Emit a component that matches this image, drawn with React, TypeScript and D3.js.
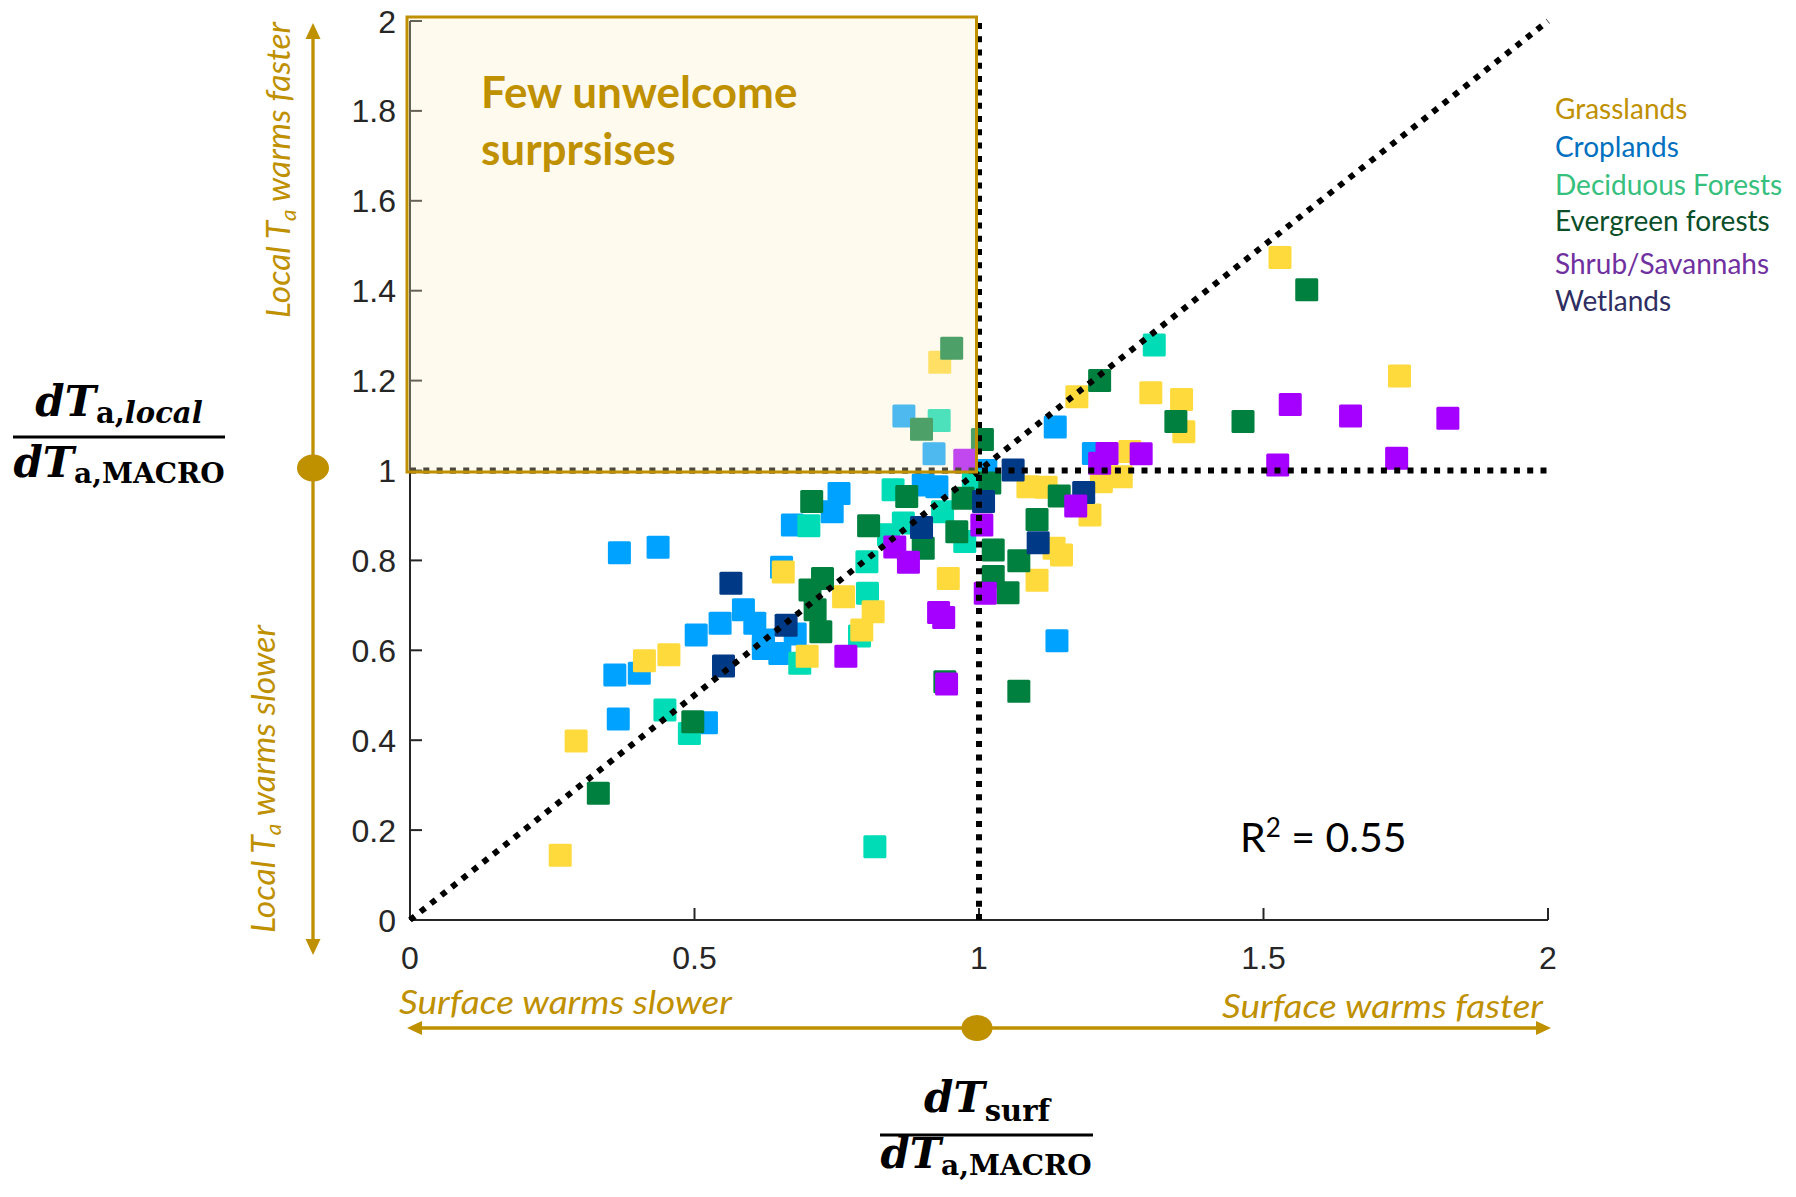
import React from "react";
import * as d3 from "d3";

type Pt = [number, number];

// ---- data (x = dTsurf/dTa,MACRO, y = dTa,local/dTa,MACRO) ----
const grasslands: Pt[] = [
  [0.931, 1.241], [0.656, 0.774], [0.762, 0.719], [0.814, 0.686], [0.794, 0.645],
  [0.946, 0.76], [0.698, 0.587], [0.412, 0.577], [0.455, 0.59], [0.292, 0.398],
  [0.264, 0.144], [1.172, 1.164], [1.302, 1.173], [1.356, 1.158], [1.36, 1.086],
  [1.739, 1.21], [1.529, 1.474], [1.265, 1.042], [1.25, 0.986], [1.215, 0.975],
  [1.086, 0.964], [1.118, 0.963], [1.195, 0.901], [1.132, 0.827], [1.145, 0.812],
  [1.102, 0.756],
];
const croplands: Pt[] = [
  [0.868, 1.121], [0.921, 1.037], [0.902, 0.968], [0.926, 0.964], [1.012, 1.0],
  [0.754, 0.949], [0.742, 0.908], [0.672, 0.879], [0.368, 0.817], [0.436, 0.829],
  [0.653, 0.785], [0.586, 0.69], [0.545, 0.66], [0.606, 0.66], [0.677, 0.636],
  [0.503, 0.634], [0.621, 0.623], [0.621, 0.604], [0.65, 0.593], [0.36, 0.545],
  [0.403, 0.549], [0.366, 0.447], [0.521, 0.439], [1.134, 1.097], [1.201, 1.038],
  [1.137, 0.621],
];
const deciduousForests: Pt[] = [
  [0.93, 1.111], [0.849, 0.957], [0.701, 0.877], [0.867, 0.883], [0.841, 0.857],
  [0.936, 0.908], [0.975, 0.842], [0.99, 0.976], [0.803, 0.797], [0.804, 0.727],
  [0.79, 0.632], [0.685, 0.571], [0.448, 0.467], [0.491, 0.415], [0.817, 0.163],
  [1.308, 1.279],
];
const evergreenForests: Pt[] = [
  [0.952, 1.272], [0.899, 1.092], [1.006, 1.069], [0.873, 0.942], [0.706, 0.931],
  [0.806, 0.877], [0.902, 0.827], [0.972, 0.938], [0.961, 0.864], [1.019, 0.972],
  [1.025, 0.823], [1.025, 0.764], [0.725, 0.76], [0.703, 0.734], [0.712, 0.69],
  [0.722, 0.641], [0.94, 0.53], [0.497, 0.441], [0.331, 0.282], [1.212, 1.2],
  [1.346, 1.109], [1.464, 1.109], [1.141, 0.943], [1.102, 0.891], [1.07, 0.799],
  [1.051, 0.728], [1.07, 0.509], [1.576, 1.402],
];
const shrubSavannahs: Pt[] = [
  [0.975, 1.023], [0.852, 0.83], [0.876, 0.796], [1.005, 0.879], [1.011, 0.727],
  [0.929, 0.684], [0.938, 0.673], [0.766, 0.587], [0.943, 0.525], [1.547, 1.147],
  [1.653, 1.121], [1.824, 1.116], [1.525, 1.012], [1.734, 1.027], [1.225, 1.038],
  [1.212, 1.016], [1.285, 1.037], [1.17, 0.921],
];
const wetlands: Pt[] = [
  [0.899, 0.873], [1.008, 0.931], [0.564, 0.749], [0.661, 0.656], [0.551, 0.565],
  [1.06, 1.001], [1.184, 0.951], [1.104, 0.839],
];

const categoryNames = [
  "Grasslands", "Croplands", "Deciduous Forests",
  "Evergreen forests", "Shrub/Savannahs", "Wetlands",
];
const categoryData = [grasslands, croplands, deciduousForests, evergreenForests, shrubSavannahs, wetlands];
const markerColors = ["#FFDA3C", "#00A2FF", "#00DCB6", "#00803F", "#A500FF", "#003A86"];
const legendColors = ["#BF9000", "#0070C0", "#36C07E", "#0B4F2A", "#7030A0", "#2F2E62"];
const drawOrder = [1, 2, 0, 3, 5, 4];

const xTickValues = [0, 0.5, 1, 1.5, 2];
const yTickValues = [0, 0.2, 0.4, 0.6, 0.8, 1, 1.2, 1.4, 1.6, 1.8, 2];

const W = 1796;
const H = 1197;
const GOLD = "#BF9000";
const AXIS = "#262626";

export default function App() {
  const x = d3.scaleLinear().domain([0, 2]).range([410, 1548]);
  const y = d3.scaleLinear().domain([0, 2]).range([920, 21]);
  const fmt = d3.format("~g");
  const S = 23;
  const line = d3.line<Pt>().x((d) => x(d[0])).y((d) => y(d[1]));
  const dot = { stroke: "#000", strokeWidth: 6, strokeDasharray: "6 7.3", fill: "none" };

  const legendBaselines = [119, 157, 195, 231, 274, 311];
  const italicLabel = {
    fontFamily: "Lato, sans-serif",
    fontStyle: "italic",
    fontWeight: 400,
    fontSize: 33,
    fill: GOLD,
    lengthAdjust: "spacingAndGlyphs",
  } as const;

  return (
    <svg
      width={W}
      height={H}
      viewBox={`0 0 ${W} ${H}`}
      style={{ position: "absolute", left: 0, top: 0, background: "#fff" }}
    >
      <rect x={0} y={0} width={W} height={H} fill="#fff" />

      {/* axes */}
      <line x1={x(0)} x2={x(2)} y1={y(0)} y2={y(0)} stroke={AXIS} strokeWidth={2} />
      <line x1={x(0)} x2={x(0)} y1={y(0)} y2={y(2)} stroke={AXIS} strokeWidth={2} />
      {xTickValues.map((t) => (
        <g key={"xt" + t}>
          <line x1={x(t)} x2={x(t)} y1={y(0)} y2={y(0) - 12} stroke={AXIS} strokeWidth={2} />
          <text x={x(t)} y={969} textAnchor="middle" fontFamily="'Liberation Sans', Arial, sans-serif" fontSize={32} fill={AXIS}>
            {fmt(t)}
          </text>
        </g>
      ))}
      {yTickValues.map((t) => (
        <g key={"yt" + t}>
          <line x1={x(0)} x2={x(0) + 12} y1={y(t)} y2={y(t)} stroke={AXIS} strokeWidth={2} />
          <text x={396} y={y(t)} dy="0.36em" textAnchor="end" fontFamily="'Liberation Sans', Arial, sans-serif" fontSize={32} fill={AXIS}>
            {fmt(t)}
          </text>
        </g>
      ))}

      {/* points */}
      {drawOrder.map((ci) => (
        <g key={"cat" + ci}>
          {categoryData[ci].map((d, i) => (
            <rect key={i} x={x(d[0]) - S / 2} y={y(d[1]) - S / 2} width={S} height={S} rx={1.5} fill={markerColors[ci]} />
          ))}
        </g>
      ))}

      {/* reference lines */}
      <path d={line([[0, 0], [2, 2]]) || ""} {...dot} />
      <path d={line([[0, 1], [2, 1]]) || ""} {...dot} />
      <path d={line([[1, 0], [1, 2]]) || ""} {...dot} />

      {/* highlighted box */}
      <rect
        x={x(0) - 3}
        y={y(2) - 4}
        width={x(1) - x(0) + 0.5}
        height={y(1) - y(2) + 5.5}
        fill="rgb(255,238,198)"
        fillOpacity={0.3}
        stroke={GOLD}
        strokeWidth={3}
      />
      <text fontFamily="Lato, sans-serif" fontWeight={700} fontSize={44} fill={GOLD}>
        <tspan x={481} y={108}>Few unwelcome</tspan>
        <tspan x={481} y={165}>surprsises</tspan>
      </text>

      {/* legend */}
      {categoryNames.map((n, i) => (
        <text key={n} x={1555} y={legendBaselines[i]} fontFamily="Lato, sans-serif" fontSize={28} fill={legendColors[i]}>
          {n}
        </text>
      ))}

      {/* R2 */}
      <text x={1240} y={852} fontFamily="Lato, sans-serif" fontSize={41} fill="#000">
        R<tspan fontSize={26} dy={-15}>2</tspan>
        <tspan dy={15}> = 0.55</tspan>
      </text>

      {/* vertical gold arrow */}
      <line x1={313} x2={313} y1={36} y2={941} stroke={GOLD} strokeWidth={3.3} />
      <path d="M313,23 L305.5,39 L320.5,39 Z" fill={GOLD} />
      <path d="M313,955 L305.5,939 L320.5,939 Z" fill={GOLD} />
      <ellipse cx={313} cy={468} rx={16} ry={13.5} fill={GOLD} />
      <text transform="translate(290,318) rotate(-90)" {...italicLabel} textLength={296}>
        Local T<tspan fontSize={22} dy={6}>a</tspan><tspan dy={-6}> warms faster</tspan>
      </text>
      <text transform="translate(275,933) rotate(-90)" {...italicLabel} textLength={308}>
        Local T<tspan fontSize={22} dy={6}>a</tspan><tspan dy={-6}> warms slower</tspan>
      </text>

      {/* horizontal gold arrow */}
      <line x1={420} x2={1538} y1={1028} y2={1028} stroke={GOLD} strokeWidth={3.3} />
      <path d="M407,1028 L422,1021 L422,1035 Z" fill={GOLD} />
      <path d="M1551,1028 L1536,1021 L1536,1035 Z" fill={GOLD} />
      <ellipse cx={977} cy={1028} rx={15.5} ry={13} fill={GOLD} />
      <text x={399} y={1014} {...italicLabel} textLength={333}>
        Surface warms slower
      </text>
      <text x={1543} y={1018} textAnchor="end" {...italicLabel} textLength={321}>
        Surface warms faster
      </text>

      {/* y-axis title */}
      <g fontFamily="'DejaVu Serif', serif" fontWeight={700} fill="#000">
        <text x={119} y={416} textAnchor="middle">
          <tspan fontStyle="italic" fontSize={42}>dT</tspan>
          <tspan fontSize={29} dy={7}>a,</tspan>
          <tspan fontSize={29} fontStyle="italic">local</tspan>
        </text>
        <line x1={13} x2={225} y1={437} y2={437} stroke="#000" strokeWidth={3} />
        <text x={119} y={477} textAnchor="middle">
          <tspan fontStyle="italic" fontSize={42}>dT</tspan>
          <tspan fontSize={28} dy={6}>a,MACRO</tspan>
        </text>
      </g>

      {/* x-axis title */}
      <g fontFamily="'DejaVu Serif', serif" fontWeight={700} fill="#000">
        <text x={987} y={1112} textAnchor="middle">
          <tspan fontStyle="italic" fontSize={42}>dT</tspan>
          <tspan fontSize={29} dy={9}>surf</tspan>
        </text>
        <line x1={880} x2={1093} y1={1135} y2={1135} stroke="#000" strokeWidth={3} />
        <text x={986} y={1168} textAnchor="middle">
          <tspan fontStyle="italic" fontSize={42}>dT</tspan>
          <tspan fontSize={28} dy={7}>a,MACRO</tspan>
        </text>
      </g>
    </svg>
  );
}
